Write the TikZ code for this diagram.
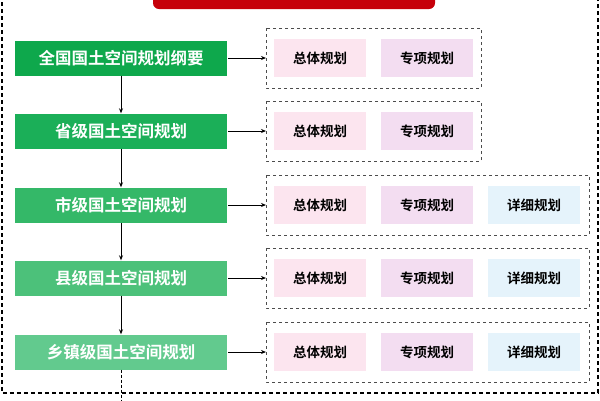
\documentclass[tikz,border=0pt]{standalone}
\usepackage{fontspec}
\setmainfont{Noto Sans CJK SC}[BoldFont={Noto Sans CJK SC Bold}]
\usetikzlibrary{arrows.meta}
\begin{document}
\begin{tikzpicture}[x=1pt,y=-1pt,
  lvl/.style={minimum width=212pt,minimum height=35pt,text=white,font=\bfseries\fontsize{16.5}{18}\selectfont,inner sep=0pt},
  item/.style={minimum width=92pt,minimum height=38pt,font=\bfseries\fontsize{13.5}{15}\selectfont,inner sep=0pt},
  grp/.style={draw=black!70,dashed,line width=0.8pt},
  arr/.style={-{Stealth[length=5pt,width=4pt]},line width=0.9pt}]
\useasboundingbox (0,0) rectangle (600,400);
\draw[line width=1.2pt,dash pattern=on 4pt off 3pt] (2,-5) -- (2,393) -- (598,393) -- (598,-5);
\fill[fill={rgb,255:red,198;green,0;blue,10},rounded corners=6pt] (153,-20) rectangle (435,9);
\node[lvl,fill={rgb,255:red,14;green,168;blue,76}] (l1) at (121,58) {全国国土空间规划纲要};
\node[lvl,fill={rgb,255:red,27;green,175;blue,88}] (l2) at (121,131) {省级国土空间规划};
\node[lvl,fill={rgb,255:red,52;green,184;blue,104}] (l3) at (121,205) {市级国土空间规划};
\node[lvl,fill={rgb,255:red,76;green,193;blue,122}] (l4) at (121,278) {县级国土空间规划};
\node[lvl,fill={rgb,255:red,98;green,202;blue,142}] (l5) at (121,352) {乡镇级国土空间规划};
\foreach \i/\y/\n in {1/58/2,2/131/2,3/205/3,4/278/3,5/352/3}{
  \ifnum\n=2
    \draw[grp] (266,\y-30) rectangle (481,\y+30);
  \else
    \draw[grp] (266,\y-30) rectangle (589,\y+30);
  \fi
  \coordinate (g\i) at (266,\y);
  \node[item,fill={rgb,255:red,252;green,229;blue,239}] (a\i) at (320,\y) {总体规划};
  \node[item,fill={rgb,255:red,243;green,221;blue,241}] (b\i) at (427,\y) {专项规划};
  \ifnum\n=3
  \node[item,fill={rgb,255:red,229;green,243;blue,251}] (c\i) at (534,\y) {详细规划};
  \fi
  \draw[arr] (l\i.east)++(1,0) -- (g\i);
}
\draw[arr] (l1) -- (l2);
\draw[arr] (l2) -- (l3);
\draw[arr] (l3) -- (l4);
\draw[arr] (l4) -- (l5);
\coordinate (e) at (121,400);
\draw[line width=0.9pt,dash pattern=on 3pt off 2pt] (l5) -- (e);
\end{tikzpicture}
\end{document}
